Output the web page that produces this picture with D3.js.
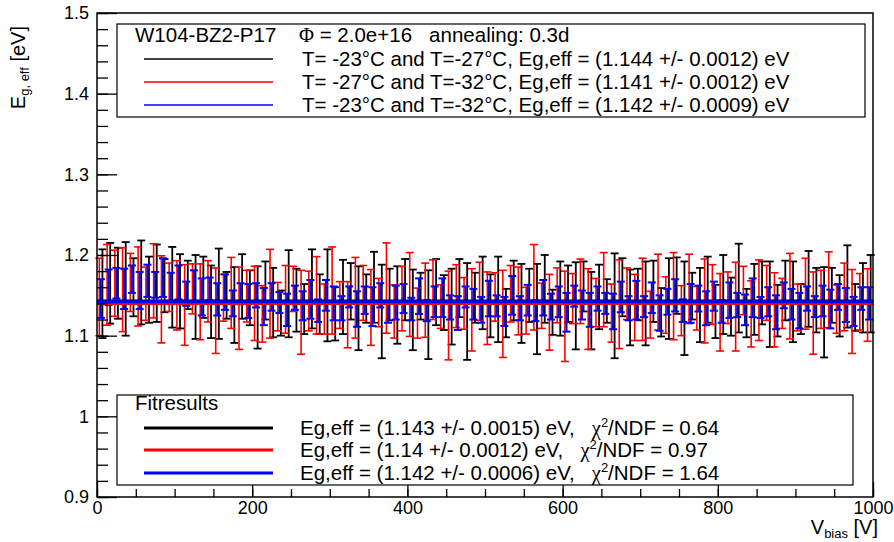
<!DOCTYPE html>
<html>
<head>
<meta charset="utf-8">
<script src="https://cdn.jsdelivr.net/npm/d3@7"></script>
<style>
body { margin: 0; background: #fff; }
text { font-family: "Liberation Sans", Arial, sans-serif; }
</style>
</head>
<body>
<div id="chart"></div>
<script>
var w = 894; // page width
var h = 542; // page height
var plotLeft = 97, plotRight = 873, plotTop = 13, plotBottom = 497;
var legendFont = 20.5;

// Bias voltages (V) of each measurement pair
var blackV = [7,17,27,37,47,57,67,77,87,97,107,117,127,137,147,157,167,177,187,197,
    207,217,227,237,247,257,267,277,287,297,307,317,327,337,347,357,367,377,387,397,
    407,417,427,437,447,457,467,477,487,497,507,517,527,537,547,557,567,577,587,597,
    607,617,627,637,647,657,667,677,687,697,707,717,727,737,747,757,767,777,787,797,
    807,817,827,837,847,857,867,877,887,897,907,917,927,937,947,957,967,977,987,997];
var redV = [3,13,23,33,43,53,63,73,83,93,103,113,123,133,143,153,163,173,183,193,
    203,213,223,233,243,253,263,273,283,293,303,313,323,333,343,353,363,373,383,393,
    403,413,423,433,443,453,463,473,483,493,503,513,523,533,543,553,563,573,583,593,
    603,613,623,633,643,653,663,673,683,693,703,713,723,733,743,753,763,773,783,793,
    803,813,823,833,843,853,863,873,883,893,903,913,923,933,943,953,963,973,983,993];
var blueV = [5,15,25,35,45,55,65,75,85,95,105,115,125,135,145,155,165,175,185,195,
    205,215,225,235,245,255,265,275,285,295,305,315,325,335,345,355,365,375,385,395,
    405,415,425,435,445,455,465,475,485,495,505,515,525,535,545,555,565,575,585,595,
    605,615,625,635,645,655,665,675,685,695,705,715,725,735,745,755,765,775,785,795,
    805,815,825,835,845,855,865,875,885,895,905,915,925,935,945,955,965,975,985,995];

// T=-23C and T=-27C
var blackVals = [1.152,1.165,1.165,1.158,1.160,1.166,1.157,1.165,1.162,1.160,
    1.155,1.163,1.148,1.160,1.142,1.152,1.150,1.138,1.161,1.147,
    1.135,1.156,1.141,1.128,1.152,1.144,1.133,1.158,1.139,1.150,
    1.127,1.148,1.155,1.134,1.146,1.160,1.130,1.151,1.138,1.157,
    1.132,1.149,1.126,1.154,1.141,1.136,1.159,1.130,1.147,1.153,
    1.137,1.145,1.128,1.156,1.140,1.150,1.133,1.158,1.129,1.146,
    1.152,1.137,1.161,1.131,1.148,1.143,1.137,1.160,1.135,1.151,
    1.140,1.155,1.129,1.146,1.162,1.134,1.149,1.138,1.157,1.130,
    1.151,1.136,1.159,1.128,1.145,1.153,1.139,1.131,1.156,1.142,
    1.133,1.158,1.144,1.129,1.150,1.137,1.161,1.135,1.147,1.152];
var blackErr = [0.055,0.050,0.044,0.058,0.036,0.052,0.041,0.048,0.033,0.050,
    0.046,0.030,0.052,0.038,0.045,0.056,0.029,0.047,0.040,0.034,
    0.051,0.036,0.043,0.028,0.054,0.039,0.031,0.049,0.037,0.057,
    0.033,0.046,0.035,0.052,0.030,0.044,0.058,0.032,0.048,0.038,
    0.050,0.029,0.055,0.041,0.034,0.047,0.036,0.060,0.031,0.045,
    0.039,0.053,0.030,0.037,0.049,0.033,0.056,0.042,0.028,0.046,
    0.035,0.054,0.031,0.048,0.040,0.027,0.065,0.036,0.047,0.032,
    0.052,0.038,0.030,0.050,0.035,0.058,0.029,0.046,0.041,0.033,
    0.049,0.036,0.055,0.030,0.044,0.039,0.053,0.032,0.037,0.050,
    0.031,0.047,0.040,0.056,0.034,0.038,0.051,0.029,0.043,0.048];

// T=-27C and T=-32C
var redVals = [1.148,1.163,1.165,1.157,1.166,1.161,1.152,1.168,1.145,1.160,
    1.150,1.138,1.158,1.142,1.155,1.131,1.147,1.153,1.134,1.149,
    1.140,1.127,1.152,1.136,1.145,1.158,1.129,1.143,1.150,1.133,
    1.156,1.138,1.126,1.147,1.153,1.135,1.141,1.159,1.130,1.146,
    1.151,1.128,1.144,1.157,1.136,1.125,1.149,1.140,1.132,1.155,
    1.134,1.148,1.127,1.152,1.143,1.131,1.160,1.137,1.129,1.150,
    1.124,1.146,1.155,1.133,1.141,1.157,1.128,1.139,1.152,1.135,
    1.145,1.126,1.154,1.138,1.149,1.131,1.158,1.134,1.143,1.151,
    1.129,1.147,1.136,1.156,1.127,1.144,1.153,1.132,1.140,1.149,
    1.135,1.152,1.128,1.145,1.157,1.133,1.148,1.130,1.142,1.138];
var redErr = [0.048,0.050,0.041,0.052,0.036,0.049,0.033,0.046,0.054,0.030,
    0.043,0.050,0.031,0.047,0.038,0.053,0.029,0.044,0.051,0.032,
    0.046,0.035,0.055,0.030,0.042,0.028,0.052,0.037,0.048,0.031,
    0.054,0.029,0.041,0.050,0.034,0.047,0.030,0.056,0.033,0.040,
    0.052,0.031,0.046,0.037,0.027,0.055,0.039,0.032,0.051,0.036,
    0.045,0.030,0.054,0.035,0.042,0.029,0.053,0.028,0.047,0.034,
    0.056,0.031,0.040,0.050,0.030,0.046,0.036,0.055,0.032,0.041,
    0.051,0.029,0.047,0.035,0.054,0.031,0.043,0.027,0.052,0.037,
    0.048,0.032,0.055,0.030,0.041,0.050,0.034,0.046,0.031,0.053,
    0.029,0.044,0.051,0.036,0.047,0.030,0.042,0.052,0.035,0.045];

// T=-23C and T=-32C
var blueVals = [1.146,1.160,1.165,1.158,1.170,1.156,1.168,1.163,1.172,1.160,
    1.166,1.152,1.162,1.148,1.158,1.145,1.154,1.140,1.152,1.143,
    1.150,1.136,1.148,1.141,1.132,1.147,1.137,1.145,1.131,1.150,
    1.140,1.134,1.148,1.133,1.144,1.136,1.150,1.129,1.141,1.146,
    1.133,1.149,1.131,1.142,1.147,1.135,1.128,1.148,1.139,1.132,
    1.146,1.137,1.130,1.150,1.134,1.144,1.131,1.147,1.136,1.142,
    1.129,1.149,1.138,1.132,1.146,1.140,1.130,1.148,1.134,1.144,
    1.136,1.147,1.128,1.142,1.150,1.131,1.140,1.146,1.134,1.149,
    1.130,1.144,1.138,1.132,1.147,1.135,1.142,1.129,1.150,1.139,
    1.131,1.146,1.136,1.143,1.133,1.148,1.138,1.130,1.146,1.140];
var blueErr = [0.024,0.022,0.019,0.025,0.017,0.023,0.020,0.016,0.024,0.018,
    0.021,0.015,0.019,0.023,0.014,0.020,0.022,0.016,0.013,0.021,
    0.015,0.023,0.017,0.013,0.020,0.015,0.018,0.024,0.014,0.019,
    0.021,0.015,0.013,0.022,0.017,0.024,0.015,0.013,0.021,0.018,
    0.014,0.022,0.013,0.019,0.024,0.015,0.021,0.013,0.019,0.016,
    0.022,0.013,0.018,0.024,0.015,0.019,0.013,0.022,0.016,0.019,
    0.024,0.013,0.018,0.021,0.015,0.013,0.022,0.019,0.015,0.024,
    0.013,0.019,0.022,0.016,0.020,0.014,0.024,0.016,0.021,0.018,
    0.014,0.022,0.015,0.019,0.024,0.013,0.018,0.021,0.016,0.019,
    0.022,0.015,0.013,0.019,0.024,0.016,0.021,0.018,0.014,0.020];

var seriesColors = ["#000000", "#ff0000", "#0000ff"];
var seriesLabels = [
    "T= -23\u00b0C and T=-27\u00b0C, Eg,eff = (1.144 +/- 0.0012) eV",
    "T= -27\u00b0C and T=-32\u00b0C, Eg,eff = (1.141 +/- 0.0012) eV",
    "T= -23\u00b0C and T=-32\u00b0C, Eg,eff = (1.142 +/- 0.0009) eV"
];
var fitValues = [1.143, 1.14, 1.142];
var fitLabels = [
    ["Eg,eff = (1.143 +/- 0.0015) eV,", "0.64"],
    ["Eg,eff = (1.14 +/- 0.0012) eV,", "0.97"],
    ["Eg,eff = (1.142 +/- 0.0006) eV,", "1.64"]
];
var yTicks = [0.9, 1.0, 1.1, 1.2, 1.3, 1.4, 1.5];
var xTicks = [0, 200, 400, 600, 800, 1000];

var xScale = d3.scaleLinear().domain([0, 1000]).range([plotLeft, plotRight]);
var yScale = d3.scaleLinear().domain([0.9, 1.5]).range([plotBottom, plotTop]);

var svg = d3.select("#chart").append("svg")
    .attr("width", w)
    .attr("height", h);

// Error bars for each graph
var allSeries = [
    { volts: blackV, vals: blackVals, errs: blackErr, color: seriesColors[0], lw: 1.8, cap: 4 },
    { volts: redV, vals: redVals, errs: redErr, color: seriesColors[1], lw: 1.6, cap: 4 },
    { volts: blueV, vals: blueVals, errs: blueErr, color: seriesColors[2], lw: 2, cap: 4 }
];

allSeries.forEach(function(s) {
    var pts = s.volts.map(function(v, i) { return { x: v, y: s.vals[i], e: s.errs[i] }; });
    var g = svg.append("g").attr("stroke", s.color).attr("stroke-width", s.lw);
    g.selectAll("line.v").data(pts).enter().append("line")
        .attr("x1", function(d) { return xScale(d.x); })
        .attr("x2", function(d) { return xScale(d.x); })
        .attr("y1", function(d) { return yScale(d.y - d.e); })
        .attr("y2", function(d) { return yScale(d.y + d.e); });
    g.selectAll("line.t").data(pts).enter().append("line")
        .attr("x1", function(d) { return xScale(d.x) - s.cap; })
        .attr("x2", function(d) { return xScale(d.x) + s.cap; })
        .attr("y1", function(d) { return yScale(d.y + d.e); })
        .attr("y2", function(d) { return yScale(d.y + d.e); });
    g.selectAll("line.b").data(pts).enter().append("line")
        .attr("x1", function(d) { return xScale(d.x) - s.cap; })
        .attr("x2", function(d) { return xScale(d.x) + s.cap; })
        .attr("y1", function(d) { return yScale(d.y - d.e); })
        .attr("y2", function(d) { return yScale(d.y - d.e); });
});

// Fit lines
svg.selectAll("line.fit").data(fitValues).enter().append("line")
    .attr("x1", xScale(0))
    .attr("x2", xScale(1000))
    .attr("y1", function(d) { return yScale(d); })
    .attr("y2", function(d) { return yScale(d); })
    .attr("stroke", function(d, i) { return seriesColors[i]; })
    .attr("stroke-width", 3);

// Frame
svg.append("rect")
    .attr("x", plotLeft).attr("y", plotTop)
    .attr("width", plotRight - plotLeft).attr("height", plotBottom - plotTop)
    .attr("fill", "none").attr("stroke", "#000").attr("stroke-width", 1.5);

// Y axis with ticks pointing inward
var yAxis = svg.append("g")
    .attr("transform", "translate(" + plotLeft + ",0)")
    .call(d3.axisLeft(yScale).tickValues(yTicks).tickSizeInner(-20).tickSizeOuter(0).tickPadding(8)
        .tickFormat(function(d) { return String(+d.toFixed(1)); }));
yAxis.select(".domain").remove();
yAxis.selectAll("text").attr("x", -8).attr("font-size", 18).attr("font-family", "Liberation Sans, Arial, sans-serif");
svg.append("g")
    .attr("transform", "translate(" + plotLeft + ",0)")
    .call(d3.axisLeft(yScale).ticks(30).tickSizeInner(-11).tickSizeOuter(0).tickFormat(""))
    .select(".domain").remove();

// X axis
var xAxis = svg.append("g")
    .attr("transform", "translate(0," + plotBottom + ")")
    .call(d3.axisBottom(xScale).tickValues(xTicks).tickSizeInner(-15).tickSizeOuter(0).tickPadding(4)
        .tickFormat(d3.format("d")));
xAxis.select(".domain").remove();
xAxis.selectAll("text").attr("y", 4).attr("dy", "0.71em").attr("font-size", 18).attr("font-family", "Liberation Sans, Arial, sans-serif");
svg.append("g")
    .attr("transform", "translate(0," + plotBottom + ")")
    .call(d3.axisBottom(xScale).ticks(20).tickSizeInner(-8).tickSizeOuter(0).tickFormat(""))
    .select(".domain").remove();
svg.selectAll(".tick line").attr("stroke-width", 1.3);

// Axis titles
var yt = svg.append("text")
    .attr("transform", "translate(25,26) rotate(-90)")
    .attr("text-anchor", "end")
    .attr("font-size", 20);
yt.append("tspan").text("E");
yt.append("tspan").attr("font-size", 13).attr("dy", 4).text("g, eff");
yt.append("tspan").attr("dy", -4).text(" [eV]");

var xt = svg.append("text")
    .attr("x", 878).attr("y", 534)
    .attr("text-anchor", "end")
    .attr("font-size", 20);
xt.append("tspan").text("V");
xt.append("tspan").attr("font-size", 13).attr("dy", 4).text("bias");
xt.append("tspan").attr("dy", -4).text(" [V]");

// Top legend
svg.append("rect")
    .attr("x", 117).attr("y", 24).attr("width", 748).attr("height", 93)
    .attr("fill", "#fff").attr("stroke", "#000").attr("stroke-width", 1.2);
svg.append("text").attr("x", 135).attr("y", 42).attr("font-size", legendFont).text("W104-BZ2-P17");
var head = svg.append("text").attr("x", 299).attr("y", 42).attr("font-size", legendFont)
    .style("white-space", "pre");
head.append("tspan").attr("font-family", "Liberation Serif, serif").text("\u03a6");
head.append("tspan").text(" = 2.0e+16   annealing: 0.3d");

var topRows = [59, 82, 105];
svg.selectAll("line.leg").data(seriesLabels).enter().append("line")
    .attr("x1", 144).attr("x2", 273)
    .attr("y1", function(d, i) { return topRows[i]; })
    .attr("y2", function(d, i) { return topRows[i]; })
    .attr("stroke", function(d, i) { return seriesColors[i]; })
    .attr("stroke-width", 1.5);
svg.selectAll("text.leg").data(seriesLabels).enter().append("text")
    .attr("x", 302)
    .attr("y", function(d, i) { return topRows[i] + 7; })
    .attr("font-size", legendFont)
    .text(function(d) { return d; });

// Fit legend
svg.append("rect")
    .attr("x", 117).attr("y", 395).attr("width", 736).attr("height", 90)
    .attr("fill", "#fff").attr("stroke", "#000").attr("stroke-width", 1.2);
svg.append("text").attr("x", 135).attr("y", 410).attr("font-size", legendFont).text("Fitresults");
var fitRows = [428, 450, 473];
svg.selectAll("line.fleg").data(fitLabels).enter().append("line")
    .attr("x1", 144).attr("x2", 273)
    .attr("y1", function(d, i) { return fitRows[i]; })
    .attr("y2", function(d, i) { return fitRows[i]; })
    .attr("stroke", function(d, i) { return seriesColors[i]; })
    .attr("stroke-width", 3);
fitLabels.forEach(function(d, i) {
    var t = svg.append("text").attr("x", 300).attr("y", fitRows[i] + 7).attr("font-size", legendFont)
        .style("white-space", "pre");
    t.append("tspan").text(d[0] + "   ");
    t.append("tspan").attr("font-family", "Liberation Serif, serif").text("\u03c7");
    t.append("tspan").attr("font-size", 13).attr("dy", -8).text("2");
    t.append("tspan").attr("dy", 8).text("/NDF = " + d[1]);
});
</script>
</body>
</html>
